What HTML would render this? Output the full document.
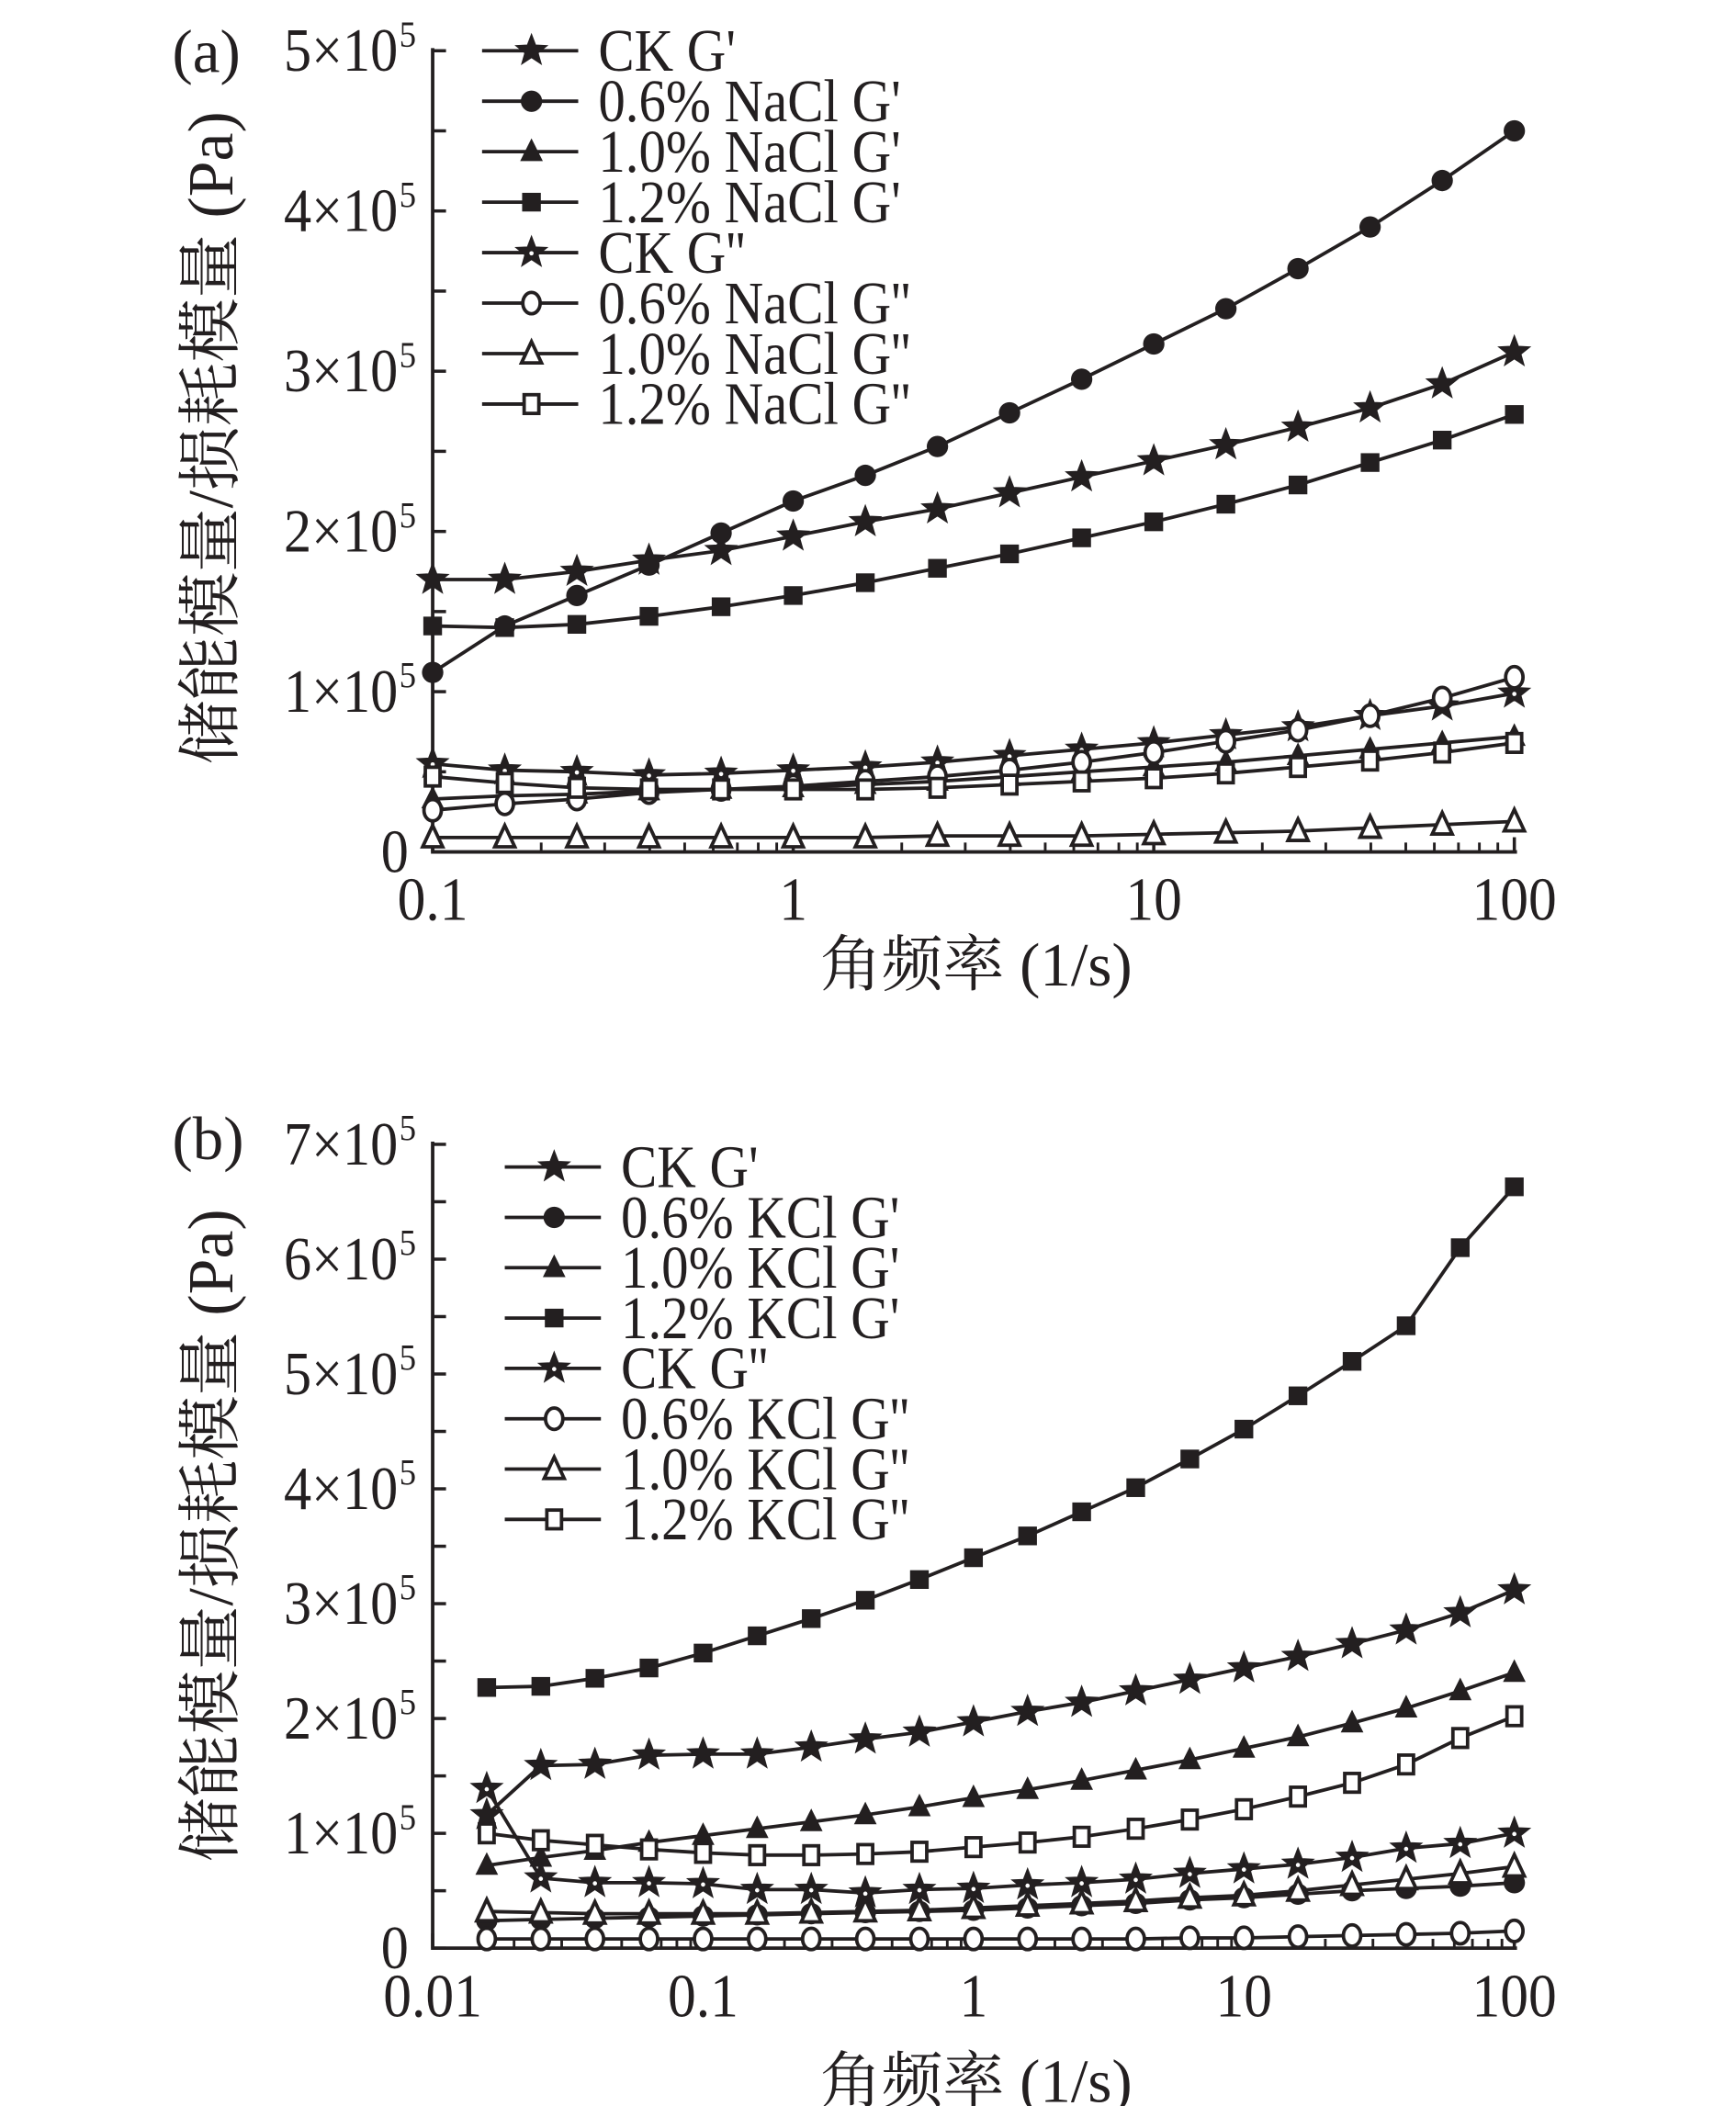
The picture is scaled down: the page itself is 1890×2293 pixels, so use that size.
<!DOCTYPE html>
<html><head><meta charset="utf-8">
<style>html,body{margin:0;padding:0;background:#fff}svg{display:block}</style>
</head><body>
<svg id="s" xmlns="http://www.w3.org/2000/svg" width="1890" height="2293" viewBox="0 0 1300 1577.2" preserveAspectRatio="none"></svg>
<script>
const S=document.getElementById('s');let h='';
const C='#231f20';
function star(x,y,r,fill){let p=[];for(let i=0;i<10;i++){const a=-Math.PI/2+i*Math.PI/5;const rr=i%2?r*0.42:r;p.push((x+rr*Math.cos(a)).toFixed(1)+','+(y+rr*Math.sin(a)).toFixed(1));}
 let s=`<polygon points="${p.join(' ')}" fill="${C}" stroke="${C}" stroke-width="1"/>`;
 if(!fill){s+=`<circle cx="${x}" cy="${y+0.5}" r="1.6" fill="#fff"/>`;}return s;}
function mark(t,x,y,f){
 if(t=='star')return star(x,y,12,f);
 if(t=='circ')return f?`<circle cx="${x}" cy="${y}" r="8" fill="${C}"/>`:`<ellipse cx="${x}" cy="${y}" rx="6.5" ry="8" fill="#fff" stroke="${C}" stroke-width="2.6"/>`;
 if(t=='sq')return f?`<rect x="${x-7}" y="${y-7}" width="14" height="14" fill="${C}"/>`:`<rect x="${x-5.5}" y="${y-7}" width="11" height="14" fill="#fff" stroke="${C}" stroke-width="2.6"/>`;
 if(t=='tri')return f?`<polygon points="${x},${y-10} ${x+8.5},${y+7} ${x-8.5},${y+7}" fill="${C}"/>`:`<polygon points="${x},${y-9} ${x+7.5},${y+7} ${x-7.5},${y+7}" fill="#fff" stroke="${C}" stroke-width="2.6" stroke-linejoin="miter"/>`;
}
function txt(x,y,s,size,anchor,extra){return `<text x="${x}" y="${y}" font-family="Liberation Serif, 'Noto Serif CJK SC', serif" font-size="${size}" fill="${C}" text-anchor="${anchor||'start'}" ${extra||''}>${s}</text>`;}
function ctxt(x,y,s,size,anchor,k){ k=k||0.88;
 return `<g transform="translate(${x},${y}) scale(${k},1)">`+txt(0,0,s,size,anchor)+`</g>`;}
function panel(o){
 const {x0,x1,lmin,lmax,y0,step,ymax,series,legx,legy,legdy,xlabY,tl}=o;
 const dec=(x1-x0)/(lmax-lmin);
 const X=v=>x0+(Math.log10(v)-lmin)*dec;
 h+=`<path d="M${x0},${y0-ymax*step-2}V${y0}H${x1+2}" fill="none" stroke="${C}" stroke-width="2.6"/>`;
 for(let i=0;i<=ymax*2;i++){const y=y0-i*step/2;h+=`<line x1="${x0}" x2="${x0+10}" y1="${y}" y2="${y}" stroke="${C}" stroke-width="2.4"/>`;}
 for(let d=lmin;d<=lmax;d++){const xx=x0+(d-lmin)*dec;h+=`<line x1="${xx}" x2="${xx}" y1="${y0}" y2="${y0-11}" stroke="${C}" stroke-width="2.4"/>`;
  if(d<lmax)for(let m=2;m<=9;m++){const xm=xx+Math.log10(m)*dec;h+=`<line x1="${xm}" x2="${xm}" y1="${y0}" y2="${y0-7}" stroke="${C}" stroke-width="2"/>`;}}
 for(let i=0;i<=ymax;i++){const y=y0-i*step;
  if(i==0)h+=ctxt(306,y+15,'0',46,'end',0.9);
  else{h+=ctxt(298,y+15,i+'×10',46,'end',0.9);h+=ctxt(299,y-3,'5',28,'start',0.9);}}
 tl.forEach((t,i)=>{h+=ctxt(x0+(i)*dec,y0+51,t,46,'middle',0.92);});
 series.forEach(s=>{const pts=s.v.map((v,i)=>[X(s.x0*Math.pow(10,i/5)),y0-v*step]);
  h+=`<polyline points="${pts.map(p=>p[0].toFixed(1)+','+p[1].toFixed(1)).join(' ')}" fill="none" stroke="${C}" stroke-width="2.6"/>`;
  pts.forEach(p=>h+=mark(s.t,p[0],p[1],s.f));});
 series.forEach((s,i)=>{const y=legy+legdy*s.li;h+=`<line x1="${legx}" x2="${legx+72}" y1="${y}" y2="${y}" stroke="${C}" stroke-width="2.6"/>`;h+=mark(s.t,legx+37,y,s.f);h+=ctxt(legx+87,y+15,s.n,45,'start',0.9);});
 h+=ctxt(129,o.labY,o.tag,46,'start',1);
 h+=`<g transform="translate(174,${o.yaxC}) rotate(-90)">`+`<text x="0" y="0" font-family="Liberation Serif, 'Noto Serif CJK SC', serif" font-size="48" fill="${C}" text-anchor="middle">储能模量/损耗模量 (Pa)</text></g>`;
 h+=`<text x="731" y="${xlabY}" font-family="Liberation Serif, 'Noto Serif CJK SC', serif" font-size="46" fill="${C}" text-anchor="middle">角频率 (1/s)</text>`;
}
const A={x0:324,x1:1134,lmin:-1,lmax:2,y0:638,step:120,ymax:5,legx:361,legy:38,legdy:37.8,xlabY:738,labY:54,tag:'(a)',yaxC:328,tl:['0.1','1','10','100'],
series:[
{n:"CK G'",t:'star',f:1,li:0,x0:0.1,v:[1.7,1.7,1.75,1.82,1.88,1.97,2.06,2.14,2.24,2.34,2.44,2.54,2.65,2.77,2.92,3.12]},
{n:"0.6% NaCl G'",t:'circ',f:1,li:1,x0:0.1,v:[1.12,1.41,1.6,1.79,1.99,2.19,2.35,2.53,2.74,2.95,3.17,3.39,3.64,3.9,4.19,4.5]},
{n:"1.0% NaCl G'",t:'tri',f:1,li:2,x0:0.1,v:[.33,.35,.36,.38,.39,.40,.42,.44,.47,.50,.53,.56,.60,.64,.68,.72]},
{n:"1.2% NaCl G'",t:'sq',f:1,li:3,x0:0.1,v:[1.41,1.40,1.42,1.47,1.53,1.60,1.68,1.77,1.86,1.96,2.06,2.17,2.29,2.43,2.57,2.73]},
{n:"CK G''",t:'star',f:0,li:4,x0:0.1,v:[.55,.51,.50,.48,.49,.51,.53,.56,.60,.64,.68,.73,.78,.85,.91,.99]},
{n:"0.6% NaCl G''",t:'circ',f:0,li:5,x0:0.1,v:[.26,.30,.33,.37,.39,.41,.44,.47,.51,.56,.62,.69,.76,.85,.96,1.09]},
{n:"1.0% NaCl G''",t:'tri',f:0,li:6,x0:0.1,v:[.09,.09,.09,.09,.09,.09,.09,.10,.10,.10,.11,.12,.13,.15,.17,.19]},
{n:"1.2% NaCl G''",t:'sq',f:0,li:7,x0:0.1,v:[.47,.43,.40,.39,.39,.39,.39,.40,.42,.44,.46,.49,.53,.57,.62,.68]}
]};
const x0b=Math.pow(10,-1.8);
const B={x0:324,x1:1134,lmin:-2,lmax:2,y0:1459,step:86,ymax:7,legx:378,legy:874,legdy:37.7,xlabY:1574,labY:868,tag:'(b)',yaxC:1150,tl:['0.01','0.1','1','10','100'],
series:[
{n:"CK G'",t:'star',f:1,li:0,x0:x0b,v:[1.16,1.59,1.6,1.68,1.69,1.69,1.75,1.82,1.88,1.97,2.06,2.14,2.24,2.34,2.44,2.54,2.65,2.77,2.92,3.12]},
{n:"0.6% KCl G'",t:'circ',f:1,li:1,x0:x0b,v:[.24,.25,.26,.27,.28,.29,.30,.31,.32,.33,.35,.37,.39,.42,.44,.47,.50,.52,.54,.57]},
{n:"1.0% KCl G'",t:'tri',f:1,li:2,x0:x0b,v:[.72,.79,.85,.92,.98,1.04,1.1,1.16,1.23,1.31,1.38,1.46,1.55,1.64,1.74,1.84,1.96,2.09,2.24,2.40]},
{n:"1.2% KCl G'",t:'sq',f:1,li:3,x0:x0b,v:[2.27,2.28,2.35,2.44,2.57,2.72,2.87,3.03,3.21,3.40,3.59,3.80,4.01,4.26,4.52,4.81,5.11,5.42,6.10,6.63]},
{n:"CK G''",t:'star',f:0,li:4,x0:x0b,v:[1.39,.61,.57,.57,.56,.51,.51,.48,.51,.52,.55,.57,.60,.65,.69,.73,.79,.87,.91,1.0]},
{n:"0.6% KCl G''",t:'circ',f:0,li:5,x0:x0b,v:[.08,.08,.08,.08,.08,.08,.08,.08,.08,.08,.08,.08,.08,.09,.09,.10,.11,.12,.13,.15]},
{n:"1.0% KCl G''",t:'tri',f:0,li:6,x0:x0b,v:[.32,.31,.30,.30,.30,.30,.31,.32,.33,.35,.37,.39,.41,.44,.46,.50,.55,.60,.65,.71]},
{n:"1.2% KCl G''",t:'sq',f:0,li:7,x0:x0b,v:[1.0,.94,.90,.86,.83,.81,.81,.82,.84,.88,.92,.97,1.04,1.12,1.21,1.32,1.44,1.60,1.83,2.02]}
]};
panel(A);panel(B);
S.innerHTML=h;
</script>
</body></html>
